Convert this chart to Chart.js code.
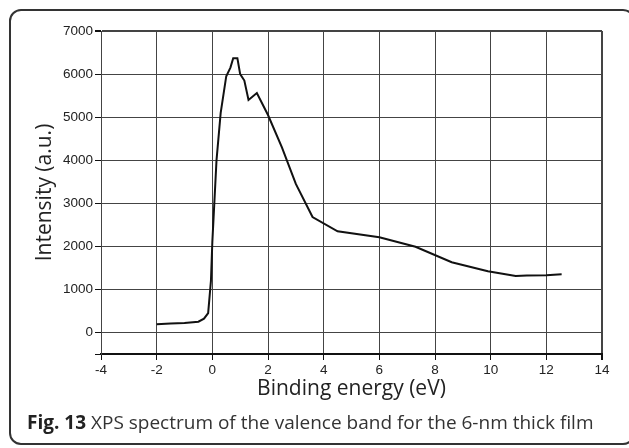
<!DOCTYPE html>
<html>
<head>
<meta charset="utf-8">
<script src="https://cdn.jsdelivr.net/npm/chart.js@4"></script>
<style>
  html, body { margin: 0; padding: 0; background: #fff; }
  #wrap { position: relative; width: 629px; height: 448px; overflow: hidden; }
  #frame { position: absolute; left: 9px; top: 9px; width: 626px; height: 436px;
           border: 2px solid #333; border-radius: 12px; box-sizing: border-box; }
  #chartBox { position: absolute; left: 0; top: 0; width: 629px; height: 448px; }
  #caption { position: absolute; left: 27px; top: 410px; font-family: "Open Sans", sans-serif;
             font-size: 19px; line-height: 24px; color: #333; white-space: nowrap; }
  #caption b { color: #222; }
</style>
</head>
<body>
<div id="wrap">
  <div id="frame"></div>
  <div id="chartBox"><canvas id="grafico"></canvas></div>
  <div id="caption"><b>Fig. 13</b> XPS spectrum of the valence band for the 6-nm thick film</div>
</div>
<script>
// binding energy (eV) and intensity (a.u.)
const energias = [-2, -1.5, -1, -0.5, -0.3, -0.15, -0.05, 0, 0.15, 0.3, 0.5, 0.65, 0.75, 0.9, 1.0, 1.15, 1.3, 1.6,
    2.0, 2.5, 3.0, 3.6, 4.5, 6.0, 7.3, 8.6, 9.9, 10.9, 11.3, 12.0, 12.55];
const intensidades = [190, 210, 220, 250, 320, 450, 1200, 2100, 4000, 5100, 5950, 6150, 6370, 6370, 6000, 5850, 5400, 5560,
    5050, 4300, 3450, 2680, 2350, 2210, 1990, 1630, 1420, 1310, 1320, 1330, 1350];
const xTicks = [-4, -2, 0, 2, 4, 6, 8, 10, 12, 14];
const yTicks = [0, 1000, 2000, 3000, 4000, 5000, 6000, 7000];

document.addEventListener("DOMContentLoaded", function() {
    const canvas = document.getElementById("grafico");
    canvas.width = 629;
    canvas.height = 448;
    const ctx = canvas.getContext("2d");

    const pontos = energias.map(function(e, i) { return { x: e, y: intensidades[i] }; });

    new Chart(ctx, {
        type: "line",
        data: {
            datasets: [{
                data: pontos,
                borderColor: "#111",
                borderWidth: 2,
                pointRadius: 0,
                tension: 0,
                fill: false
            }]
        },
        options: {
            responsive: false,
            animation: false,
            layout: { padding: { left: 32, top: 31, right: 27, bottom: 40 } },
            plugins: { legend: { display: false }, tooltip: { enabled: false } },
            scales: {
                x: {
                    type: "linear",
                    min: -4,
                    max: 14,
                    afterBuildTicks: function(scale) {
                        scale.ticks = xTicks.map(function(v) { return { value: v }; });
                    },
                    afterFit: function(scale) { scale.height = 54; },
                    ticks: {
                        color: "#222",
                        font: { family: "'Liberation Sans', Arial", size: 13.5 },
                        padding: 2,
                        maxRotation: 0
                    },
                    grid: {
                        color: "#444",
                        lineWidth: function(c) { return c.tick && c.tick.value === 14 ? 2 : 1; },
                        tickLength: 6,
                        tickColor: "#111"
                    },
                    border: { color: "#111", width: 2 },
                    title: {
                        display: true,
                        text: "Binding energy (eV)",
                        color: "#222",
                        font: { family: "'Open Sans'", size: 21 },
                        padding: { top: 0, bottom: 6 }
                    }
                },
                y: {
                    type: "linear",
                    min: -500,
                    max: 7000,
                    afterBuildTicks: function(scale) {
                        scale.ticks = [{ value: -500 }].concat(yTicks.map(function(v) { return { value: v }; }));
                    },
                    afterFit: function(scale) { scale.width = 69; },
                    ticks: {
                        color: "#222",
                        font: { family: "'Liberation Sans', Arial", size: 13.5 },
                        padding: 2,
                        callback: function(v) { return v < 0 ? "" : String(v); }
                    },
                    grid: {
                        color: "#444",
                        lineWidth: function(c) { return c.tick && c.tick.value === 7000 ? 2 : 1; },
                        tickLength: 6,
                        tickColor: "#111"
                    },
                    border: { color: "#444", width: 1 },
                    title: {
                        display: true,
                        text: "Intensity (a.u.)",
                        color: "#222",
                        font: { family: "'Open Sans'", size: 21 },
                        padding: 0
                    }
                }
            }
        }
    });
});
</script>
</body>
</html>
